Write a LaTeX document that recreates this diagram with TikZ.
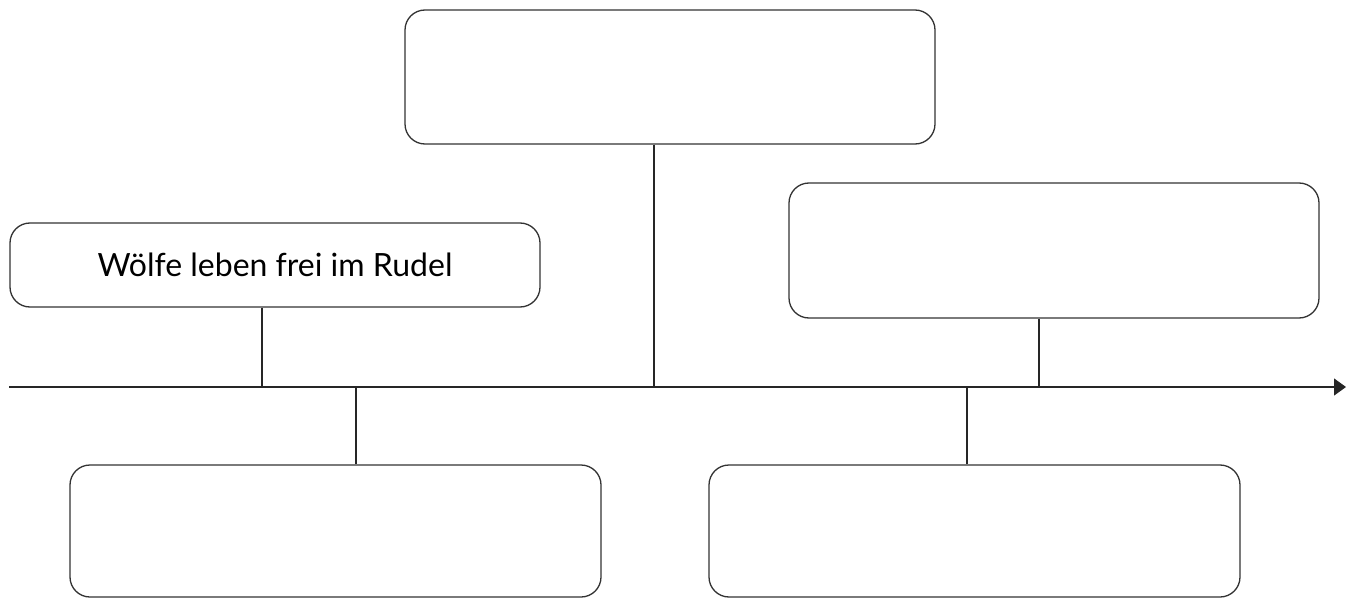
\documentclass[tikz,border=0pt]{standalone}
\usepackage{fontspec}
\setmainfont{Lato}
\usetikzlibrary{arrows.meta}
\begin{document}
\begin{tikzpicture}[x=1pt,y=-1pt,
  card/.style={draw=black!80,line width=1.3pt,rounded corners=20pt,inner sep=0pt,minimum width=530pt},
  link/.style={draw=black!85,line width=1.3pt},
  lbl/.style={font=\fontsize{32}{36}\selectfont}]
\useasboundingbox (0,0) rectangle (1347,599);
\node[card,minimum height=134pt] (top) at (670,77) {};
\node[card,minimum height=84pt,lbl] (left) at (275,265) {Wölfe leben frei im Rudel};
\node[card,minimum height=135pt] (right) at (1054,250.5) {};
\node[card,minimum height=132pt,minimum width=531pt] (bl) at (335.5,531) {};
\node[card,minimum height=132pt,minimum width=531pt] (br) at (974.5,531) {};
\coordinate (ts) at (9,387);
\coordinate (te) at (1346,387);
\draw[link,-{Triangle[length=12pt,width=17pt]}] (ts) -- (te);
\draw[link] (left.south -| 262,0) -- (262,387);
\draw[link] (top.south -| 654,0) -- (654,387);
\draw[link] (right.south -| 1039,0) -- (1039,387);
\draw[link] (bl.north -| 356,0) -- (356,387);
\draw[link] (br.north -| 967,0) -- (967,387);
\end{tikzpicture}
\end{document}
